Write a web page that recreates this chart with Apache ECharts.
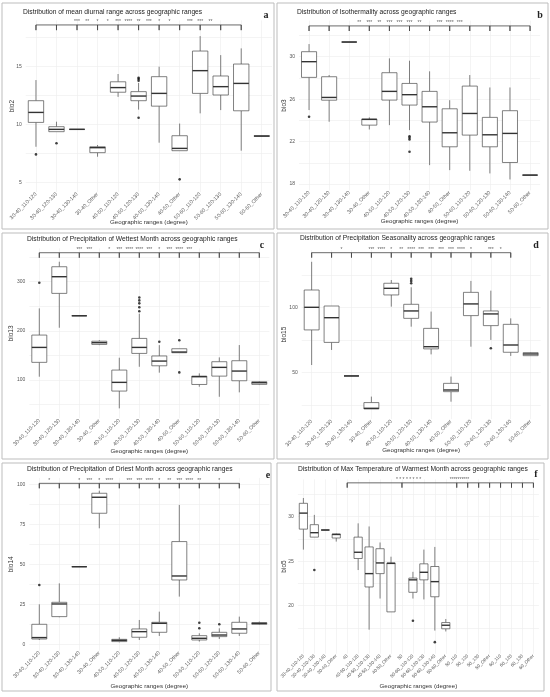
<!DOCTYPE html>
<html>
<head>
<meta charset="utf-8">
<script src="https://cdn.jsdelivr.net/npm/echarts@6/dist/echarts.min.js"></script>
<style>
html, body { margin: 0; padding: 0; background: #fff; }
#main { width: 550px; height: 697px; }
</style>
</head>
<body>
<div id="main"></div>
<script>
// categories
let geoCats = ['30-40_110-120', '30-40_120-130', '30-40_130-140', '30-40_Other',
    '40-50_110-120', '40-50_120-130', '40-50_130-140', '40-50_Other',
    '50-60_110-120', '50-60_120-130', '50-60_130-140', '50-60_Other'];
let geoCatsF = ['30-40_110-120', '30-40_120-130', '30-40_130-140', '30-40_Other', '40',
    '40-50_110-120', '40-50_120-130', '40-50_130-140', '40-50_Other', '50',
    '50-60_110-120', '50-60_120-130', '50-60_130-140', '50-60_Other',
    '50_110', '50_120', '50_130', '50_Other', '60_110', '60_120', '60_130', '60_Other'];

// box stats per category: [lower whisker, Q1, median, Q3, upper whisker]
let bio2Box = [
    [8.1, 10.2, 11.06, 12.07, 13.85], [9.4, 9.4, 9.6, 9.83, 10.26], [9.6, 9.6, 9.6, 9.6, 9.6],
    [7.24, 7.59, 8.02, 8.1, 8.25], [12.4, 12.8, 13.2, 13.7, 14.37], [11.3, 12.07, 12.47, 12.85, 13.6],
    [8.45, 11.6, 12.7, 14.14, 15.0], [7.76, 7.76, 7.96, 9.05, 10.1], [10.98, 12.7, 14.66, 16.35, 17.64],
    [11.26, 12.56, 13.28, 14.2, 16.0], [7.76, 11.2, 13.56, 15.23, 16.58], [8.98, 9.0, 9.02, 9.05, 9.07]
];
let bio2Out = [[0, 7.44], [1, 8.4], [5, 13.8], [5, 13.95], [5, 14.05], [5, 10.6], [7, 5.29]];
let bio2SigX = [2, 2.5, 3, 3.5, 4, 4.5, 5, 5.5, 6, 6.5, 7.5, 8, 8.5];
let bio2SigTxt = ['***', '**', '*', '*', '***', '****', '**', '***', '*', '*', '***', '***', '**'];
let bio2Ticks = [0, 1, 2, 3, 4, 5, 6, 7, 8, 9, 10];
let bio2Labels = [5, 10, 15];
let bio2Grid = [5, 7.5, 10, 12.5, 15, 17.5];

let bio3Box = [
    [24.97, 28.05, 29.53, 30.47, 31.19], [23.87, 25.9, 26.16, 28.11, 28.27], [31.38, 31.38, 31.38, 31.38, 31.38],
    [23.14, 23.55, 24.09, 24.12, 24.28], [23.55, 25.91, 26.73, 28.49, 29.84], [23.08, 25.44, 26.42, 27.48, 29.62],
    [19.78, 23.84, 25.28, 26.73, 28.62], [19.31, 21.51, 22.83, 25.09, 25.9], [19.25, 22.61, 24.65, 27.23, 28.27],
    [19.0, 21.51, 22.64, 24.28, 27.1], [18.43, 20.03, 22.77, 24.91, 27.1], [18.84, 18.84, 18.84, 18.84, 18.84]
];
let bio3Out = [[0, 24.34], [5, 22.5], [5, 22.35], [5, 22.2], [5, 21.04]];
let bio3SigX = [2.5, 3, 3.5, 4, 4.5, 5, 5.5, 6.5, 7, 7.5];
let bio3SigTxt = ['**', '***', '**', '***', '***', '***', '**', '***', '****', '***'];
let bio3Ticks = [0, 1, 2, 3, 4, 5, 6, 7, 8, 9, 10, 11];
let bio3Labels = [18, 22, 26, 30];
let bio3Grid = [18, 20, 22, 24, 26, 28, 30, 32];

let bio13Box = [
    [106.8, 136, 166.4, 191.5, 245.8], [206.4, 276.3, 310.2, 330.5, 340.7], [230.8, 230.8, 230.8, 230.8, 230.8],
    [171, 172.5, 176, 179, 181], [42.4, 77.6, 95.3, 120.3, 145.4], [127, 154.2, 166.4, 184.7, 235],
    [115, 129, 138.6, 149, 171], [155.6, 155.6, 157, 163.7, 163.7], [86.4, 91, 106.8, 108, 113.6],
    [66, 108, 125.8, 137.3, 146.1], [75, 98.6, 118.3, 139.3, 171.2], [89.8, 91.2, 94.6, 96.6, 98]
];
let bio13Out = [[0, 298], [5, 240], [5, 248], [5, 256], [5, 262], [5, 268], [6, 178], [7, 181], [7, 115.6]];
let bio13SigX = [2, 2.5, 3.5, 4, 4.5, 5, 5.5, 6, 6.5, 7, 7.5];
let bio13SigTxt = ['***', '***', '*', '***', '****', '****', '***', '*', '***', '****', '***'];
let bio13Ticks = [0, 1, 2, 3, 4, 5, 6, 7, 8, 9, 10, 11];
let bio13Labels = [100, 200, 300];
let bio13Grid = [50, 100, 150, 200, 250, 300, 350];

let bio15Box = [
    [55.6, 82.6, 100, 113.3, 135], [67.2, 73, 92, 101, 101], [47.2, 47.2, 47.2, 47.2, 47.2],
    [21.8, 21.8, 22.3, 26.7, 31.3], [100.5, 109.5, 114.6, 118.5, 121], [85.1, 91.5, 97.2, 102.3, 115.4],
    [63.8, 68, 69.7, 83.8, 96.7], [27.4, 35.1, 36.4, 41.5, 46.7], [69.7, 93.6, 102.6, 111.5, 120.3],
    [74.9, 85.9, 94.9, 97.2, 112.8], [62.6, 65.4, 71, 86.9, 91.5], [62.6, 62.8, 64.1, 65.1, 65.4]
];
let bio15Out = [[5, 118.5], [5, 120.3], [5, 122], [9, 68.5]];
let bio15SigX = [1.5, 3, 3.5, 4, 4.5, 5, 5.5, 6, 6.5, 7, 7.5, 8, 9, 9.5];
let bio15SigTxt = ['*', '***', '****', '*', '**', '****', '***', '***', '***', '***', '****', '*', '***', '*'];
let bio15Ticks = [0, 1, 2, 3, 4, 5, 6, 7, 8, 9, 10];
let bio15Labels = [50, 100];
let bio15Grid = [25, 50, 75, 100, 125];

let bio14Box = [
    [2.7, 3.3, 4.2, 12.5, 25], [16.9, 17.3, 25.2, 26.25, 38.1], [48.5, 48.5, 48.5, 48.5, 48.5],
    [72.5, 81.9, 91.9, 94.4, 96], [1.25, 1.7, 2.5, 3.1, 4.4], [2.7, 4.4, 7.9, 9.6, 15.2],
    [5.2, 7.5, 13.1, 13.75, 20.4], [29.8, 40.2, 42.7, 64.2, 87.1], [1.7, 2.7, 3.75, 5.4, 6.9],
    [3.3, 4.8, 5.8, 7.5, 10], [5.2, 6.9, 9.6, 13.75, 17.3], [12.1, 12.5, 13.1, 13.5, 14.2]
];
let bio14Out = [[0, 37.1], [8, 13.5], [8, 10], [9, 12.5]];
let bio14SigX = [0.5, 2, 2.5, 3, 3.5, 4.5, 5, 5.5, 6, 6.5, 7, 7.5, 8, 9];
let bio14SigTxt = ['*', '*', '***', '*', '****', '***', '***', '****', '*', '**', '***', '****', '**', '*'];
let bio14Ticks = [0, 1, 2, 3, 4, 5, 6, 7, 8, 9, 10];
let bio14Labels = [0, 25, 50, 75, 100];
let bio14Grid = [0, 12.5, 25, 37.5, 50, 62.5, 75, 87.5, 100];

let bio5Box = [
    [26.3, 28.6, 30.4, 31.5, 32.1], [27.7, 27.7, 28.2, 29.1, 30.2], [28.5, 28.5, 28.5, 28.5, 28.5],
    [27.2, 27.6, 28.0, 28.05, 28.1], null,
    [24.0, 25.3, 26.0, 27.7, 29.25], [17.3, 22.1, 23.6, 26.6, 28.9], [20.8, 23.6, 24.8, 26.4, 27.1],
    [19.3, 19.3, 24.75, 24.8, 25.5], null,
    [20.8, 21.5, 22.9, 23.1, 23.8], [20.7, 22.9, 23.75, 24.7, 26.3], [17.2, 21.0, 22.7, 24.4, 26.6],
    [17.1, 17.4, 17.8, 18.1, 18.5],
    null, null, null, null, null, null, null, null
];
let bio5Out = [[1, 24.0], [10, 18.3], [12, 15.9]];
let bio5SigX = [9.6, 14.25];
let bio5SigTxt = ['* * * * * * * *', '**********'];
let bio5Ticks = [4, 9, 14, 15, 16, 17, 18, 19, 20, 21];
let bio5Labels = [20, 25, 30];
let bio5Grid = [17.5, 20, 22.5, 25, 27.5, 30, 32.5];

let sans = '"Liberation Sans", Arial, sans-serif';

let panels = [
    {letter: 'a', title: 'Distribution of mean diurnal range across geographic ranges', yName: 'bio2',
     cats: geoCats, box: bio2Box, out: bio2Out, sigX: bio2SigX, sigTxt: bio2SigTxt, ticks: bio2Ticks,
     yLabels: bio2Labels, yGrid: bio2Grid, yMin: 4.2, yMax: 19.0, barY: 18.6, tickY: 18.15,
     frame: [2, 3, 272, 226], grid: [25.7, 20.3, 246.3, 171.7], titleAt: [23, 12], letterAt: [266, 15],
     yNameGap: 10.4, xNameGap: 27, catFont: 5.3},
    {letter: 'b', title: 'Distribution of Isothermality across geographic ranges', yName: 'bio3',
     cats: geoCats, box: bio3Box, out: bio3Out, sigX: bio3SigX, sigTxt: bio3SigTxt, ticks: bio3Ticks,
     yLabels: bio3Labels, yGrid: bio3Grid, yMin: 17.4, yMax: 33.4, barY: 32.9, tickY: 32.42,
     frame: [277, 3, 271, 226], grid: [299, 20.6, 241.1, 169.8], titleAt: [297, 12], letterAt: [540, 15],
     yNameGap: 11.7, xNameGap: 28.2, catFont: 5.3},
    {letter: 'c', title: 'Distribution of Precipitation of Wettest Month across geographic ranges', yName: 'bio13',
     cats: geoCats, box: bio13Box, out: bio13Out, sigX: bio13SigX, sigTxt: bio13SigTxt, ticks: bio13Ticks,
     yLabels: bio13Labels, yGrid: bio13Grid, yMin: 22, yMax: 368, barY: 359, tickY: 348.8,
     frame: [2, 233, 272, 226], grid: [29.3, 248.3, 240, 170.1], titleAt: [27, 239], letterAt: [262, 245],
     yNameGap: 14.3, xNameGap: 30.2, catFont: 5.3},
    {letter: 'd', title: 'Distribution of Precipitation Seasonality across geographic ranges', yName: 'bio15',
     cats: geoCats, box: bio15Box, out: bio15Out, sigX: bio15SigX, sigTxt: bio15SigTxt, ticks: bio15Ticks,
     yLabels: bio15Labels, yGrid: bio15Grid, yMin: 14, yMax: 144, barY: 142, tickY: 138.2,
     frame: [277, 233, 271, 226], grid: [301.7, 250.1, 238.9, 169], titleAt: [300, 238.5], letterAt: [536, 245],
     yNameGap: 14.4, xNameGap: 27.8, catFont: 5.3},
    {letter: 'e', title: 'Distribution of Precipitation of Driest Month across geographic ranges', yName: 'bio14',
     cats: geoCats, box: bio14Box, out: bio14Out, sigX: bio14SigX, sigTxt: bio14SigTxt, ticks: bio14Ticks,
     yLabels: bio14Labels, yGrid: bio14Grid, yMin: -4, yMax: 104, barY: 100.6, tickY: 97.5,
     frame: [2, 463, 269, 228], grid: [29.3, 477.9, 240, 172.8], titleAt: [27, 469.5], letterAt: [268, 475],
     yNameGap: 14.3, xNameGap: 32.9, catFont: 5.3},
    {letter: 'f', title: 'Distribution of Max Temperature of Warmest Month across geographic ranges', yName: 'bio5',
     cats: geoCatsF, box: bio5Box, out: bio5Out, sigX: bio5SigX, sigTxt: bio5SigTxt, ticks: bio5Ticks,
     yLabels: bio5Labels, yGrid: bio5Grid, yMin: 14.6, yMax: 34.2, barY: 33.8, tickY: 33.26,
     frame: [277, 463, 267, 228], grid: [297.9, 479.3, 241, 174.4], titleAt: [298, 469.5], letterAt: [536, 474],
     yNameGap: 10.6, xNameGap: 29.2, catFont: 4.6}
];

function drawBox(params, api) {
    let i = api.value(0);
    let lo = api.coord([i, api.value(1)]);
    let q1 = api.coord([i, api.value(2)]);
    let md = api.coord([i, api.value(3)]);
    let q3 = api.coord([i, api.value(4)]);
    let hi = api.coord([i, api.value(5)]);
    let w = api.size([1, 0])[0] * 0.75;
    let x = md[0];
    let st = {stroke: '#4a4a4a', lineWidth: 0.7, fill: null};
    return {
        type: 'group',
        children: [
            {type: 'line', shape: {x1: x, y1: hi[1], x2: x, y2: q3[1]}, style: st},
            {type: 'line', shape: {x1: x, y1: q1[1], x2: x, y2: lo[1]}, style: st},
            {type: 'rect', shape: {x: x - w / 2, y: q3[1], width: w, height: Math.max(q1[1] - q3[1], 0)},
             style: {fill: '#fff', stroke: '#4a4a4a', lineWidth: 0.7}},
            {type: 'line', shape: {x1: x - w / 2, y1: md[1], x2: x + w / 2, y2: md[1]},
             style: {stroke: '#333', lineWidth: 1.4}}
        ]
    };
}

let option = {
    animation: false,
    backgroundColor: '#fff',
    grid: [], xAxis: [], yAxis: [], series: [], graphic: []
};

panels.forEach(function (p, k) {
    option.grid.push({
        left: p.grid[0], top: p.grid[1], width: p.grid[2], height: p.grid[3],
        containLabel: false, outerBoundsMode: 'none'
    });
    option.xAxis.push({
        type: 'category', gridIndex: k, data: p.cats,
        name: 'Geographic ranges (degree)', nameLocation: 'middle', nameGap: p.xNameGap,
        nameMoveOverlap: false,
        nameTextStyle: {fontSize: 6.2, color: '#333', fontFamily: sans},
        axisLine: {show: false}, axisTick: {show: false},
        axisLabel: {interval: 0, rotate: 45, fontSize: p.catFont, color: '#555', margin: 1.5, fontFamily: sans},
        splitLine: {show: false}
    });
    option.xAxis.push({
        type: 'value', gridIndex: k, min: -0.5, max: p.cats.length - 0.5, position: 'top',
        axisLine: {show: false},
        axisTick: {show: false, customValues: p.cats.map(function (c, i) { return i; })},
        axisLabel: {show: false},
        splitLine: {show: true, lineStyle: {color: '#ededed', width: 0.6}}
    });
    option.yAxis.push({
        type: 'value', gridIndex: k, min: p.yMin, max: p.yMax,
        name: p.yName, nameLocation: 'middle', nameGap: p.yNameGap, nameRotate: 90,
        nameMoveOverlap: false,
        nameTextStyle: {fontSize: 6.5, color: '#333', fontFamily: sans},
        axisLine: {show: false},
        axisTick: {show: false, customValues: p.yGrid},
        axisLabel: {customValues: p.yLabels, fontSize: 5, color: '#555', margin: 4, fontFamily: sans},
        splitLine: {show: true, lineStyle: {color: '#ededed', width: 0.6}}
    });

    let boxData = [];
    p.box.forEach(function (b, i) {
        if (b) boxData.push([i].concat(b));
    });
    option.series.push({
        type: 'custom', xAxisIndex: 2 * k, yAxisIndex: k,
        renderItem: drawBox, data: boxData, silent: true,
        encode: {x: 0, y: [1, 2, 3, 4, 5]}
    });
    option.series.push({
        type: 'scatter', xAxisIndex: 2 * k, yAxisIndex: k,
        data: p.out, symbolSize: 2.6, itemStyle: {color: '#111'}, silent: true
    });

    let path = [];
    p.ticks.forEach(function (t) {
        path.push([t, p.barY]);
        path.push([t, p.tickY]);
        path.push([t, p.barY]);
    });
    option.series.push({
        type: 'line', xAxisIndex: 2 * k + 1, yAxisIndex: k,
        data: path, symbol: 'none', silent: true, z: 5,
        lineStyle: {color: '#444', width: 0.8}
    });
    option.series.push({
        type: 'scatter', xAxisIndex: 2 * k + 1, yAxisIndex: k,
        data: p.sigX.map(function (x) { return [x, p.barY]; }),
        symbolSize: 0.1, itemStyle: {color: 'rgba(0,0,0,0)'}, silent: true, z: 6,
        label: {
            show: true, position: 'top', distance: 0.3, fontSize: 5, color: '#333', fontFamily: sans,
            formatter: function (params) { return p.sigTxt[params.dataIndex]; }
        }
    });

    option.graphic.push({
        type: 'rect', silent: true,
        shape: {x: p.frame[0], y: p.frame[1], width: p.frame[2], height: p.frame[3]},
        style: {fill: null, stroke: '#bdbdbd', lineWidth: 1}
    });
    option.graphic.push({
        type: 'text', silent: true, x: p.titleAt[0], y: p.titleAt[1],
        style: {text: p.title, font: '6.7px ' + sans, fill: '#222', verticalAlign: 'middle'}
    });
    option.graphic.push({
        type: 'text', silent: true, x: p.letterAt[0], y: p.letterAt[1],
        style: {text: p.letter, font: 'bold 10px "Liberation Serif", serif', fill: '#222',
                 verticalAlign: 'middle', align: 'center'}
    });
});

let chart = echarts.init(document.getElementById('main'));
chart.setOption(option);
</script>
</body>
</html>
